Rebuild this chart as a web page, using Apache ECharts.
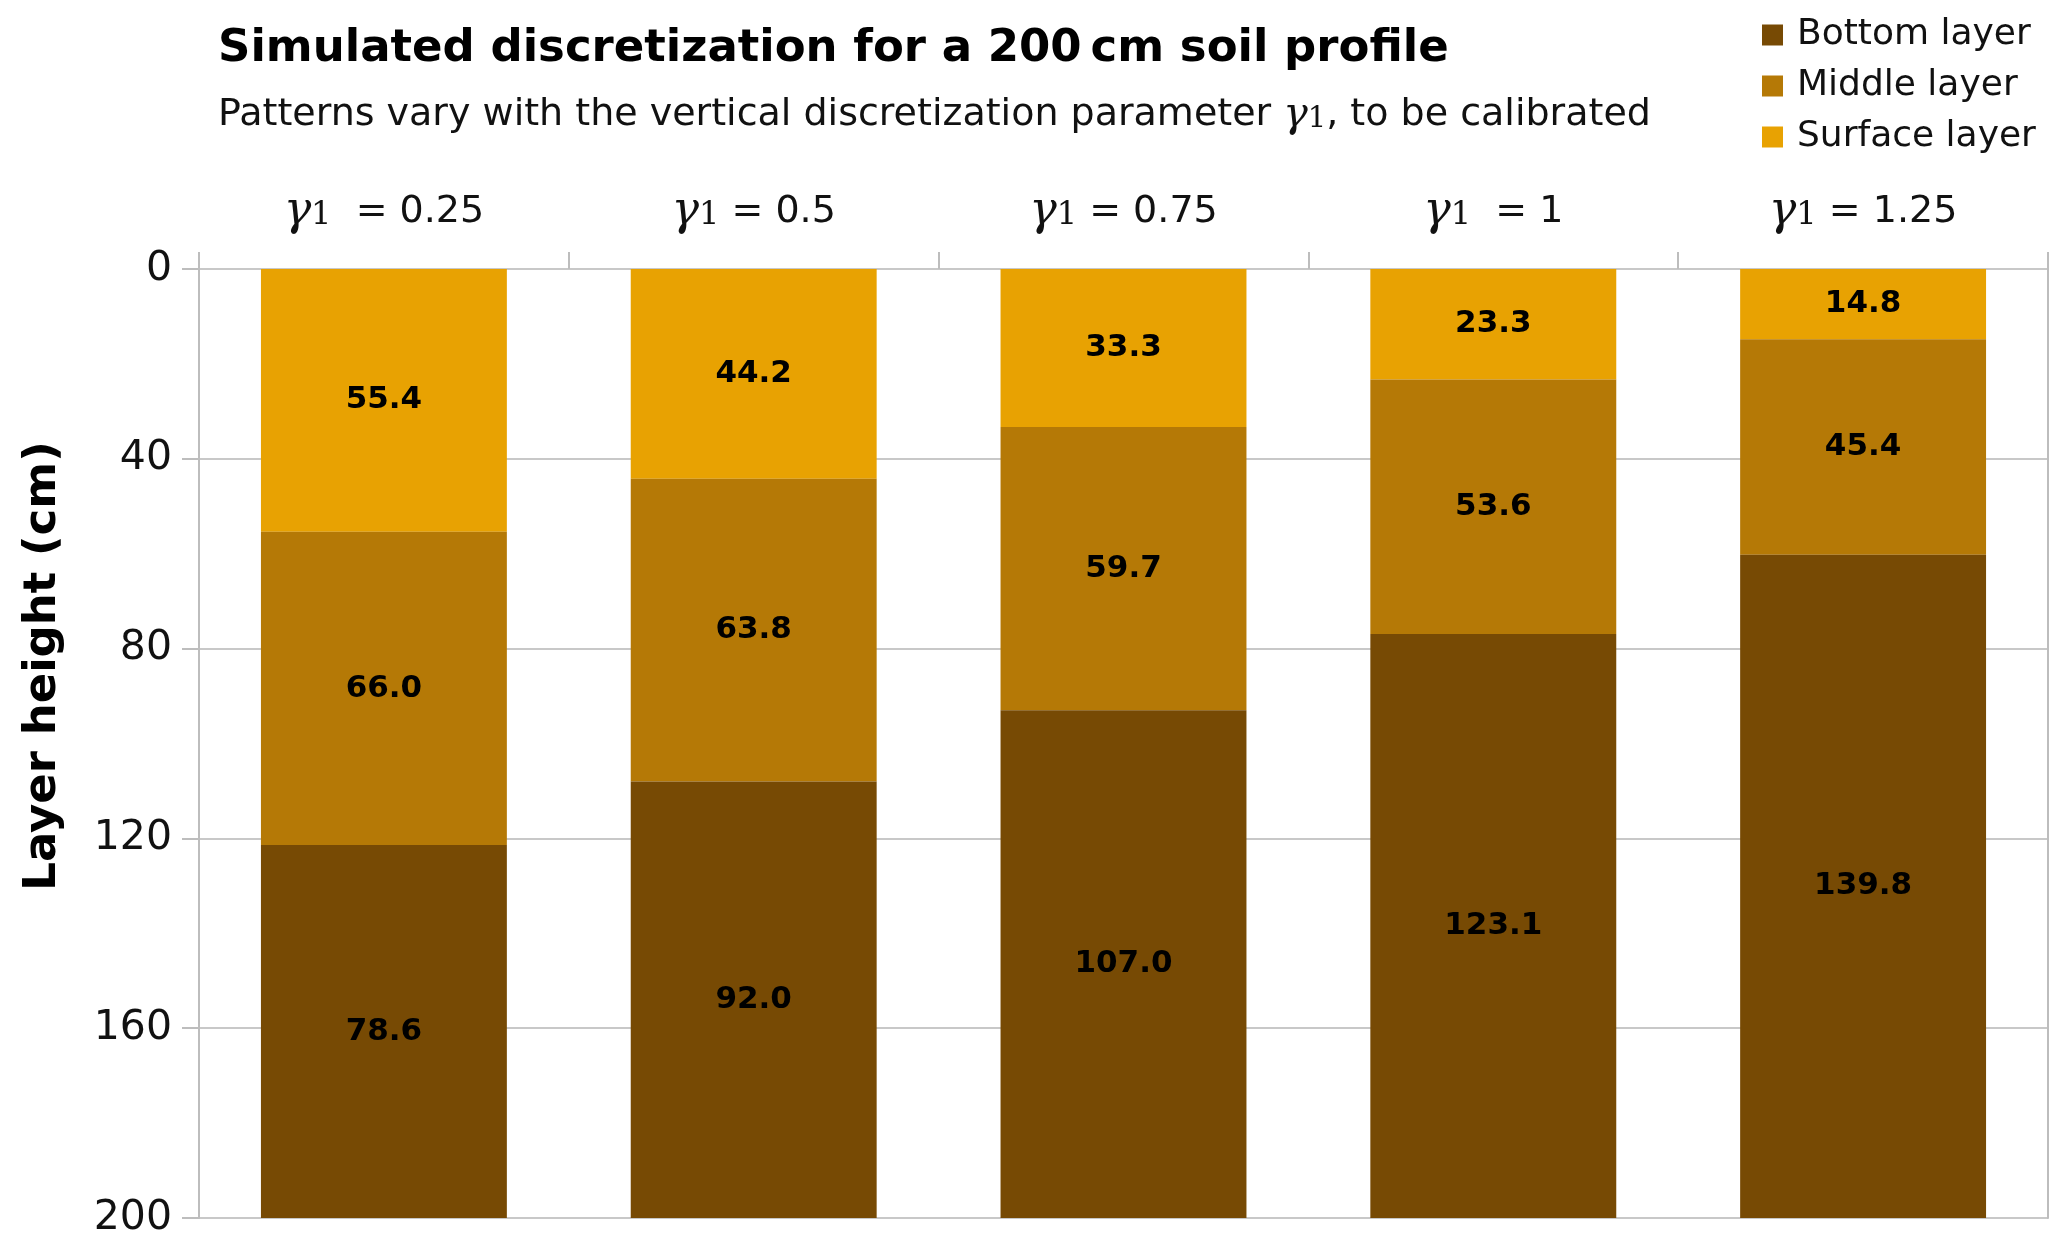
<!DOCTYPE html>
<html><head><meta charset="utf-8">
<script src="https://cdn.jsdelivr.net/npm/echarts@6/dist/echarts.min.js"></script>
<style>html,body{margin:0;padding:0;background:#fff}#c{width:2067px;height:1250px}</style>
</head><body><div id="c"></div>
<script>
const gammaValues = ['0.25', '0.5', '0.75', '1', '1.25'];
const gammaSpacer = ['  ', ' ', ' ', '  ', ' '];
const surfaceLayer = [55.4, 44.2, 33.3, 23.3, 14.8];
const middleLayer = [66.0, 63.8, 59.7, 53.6, 45.4];
const bottomLayer = [78.6, 92.0, 107.0, 123.1, 139.8];
const seriesNames = ['Surface layer', 'Middle layer', 'Bottom layer'];
const legendOrder = ['Bottom layer', 'Middle layer', 'Surface layer'];
const yTicks = {min: 0, max: 200, interval: 40};

const FONT = "'DejaVu Sans', 'Open Sans', sans-serif";
const MATH = "'DejaVu Serif', 'Liberation Serif', serif";
const colors = {'Surface layer': '#E8A202', 'Middle layer': '#B57906', 'Bottom layer': '#774A04'};

const categories = gammaValues.map((v, i) => '{g|γ}{s|1}{t|' + gammaSpacer[i] + '= ' + v + '}');
const layerData = [surfaceLayer, middleLayer, bottomLayer];

const chart = echarts.init(document.getElementById('c'), null, {renderer: 'canvas'});
chart.setOption({
  animation: false,
  backgroundColor: '#fff',
  title: [{
    text: 'Simulated discretization for a 200\u2009cm soil profile',
    left: 213, top: 22,
    textStyle: {fontFamily: FONT, fontSize: 45, fontWeight: 'bold', color: '#000'}
  }, {
    text: 'Patterns vary with the vertical discretization parameter {g|γ}{s|1}, to be calibrated',
    left: 213, top: 90,
    textStyle: {
      fontFamily: FONT, fontSize: 38, fontWeight: 'normal', color: '#111',
      rich: {
        g: {fontFamily: MATH, fontStyle: 'italic', fontSize: 41, color: '#111'},
        s: {fontFamily: MATH, fontSize: 29, color: '#111', padding: [8, 0, 0, 0]}
      }
    }
  }],
  legend: {
    data: legendOrder,
    orient: 'vertical',
    left: 1757, top: 12,
    icon: 'rect', itemWidth: 21, itemHeight: 21, itemGap: 15,
    textStyle: {fontFamily: FONT, fontSize: 36, color: '#111', padding: [0, 0, 0, 9]}
  },
  grid: {left: 199, right: 19, top: 269, bottom: 32, containLabel: false},
  xAxis: {
    type: 'category',
    position: 'top',
    data: categories,
    axisLine: {show: false},
    axisTick: {show: true, length: 17, lineStyle: {color: '#BDBDBD', width: 2}},
    axisLabel: {
      interval: 0, hideOverlap: false,
      margin: 34, color: '#111', fontFamily: FONT, fontSize: 38,
      rich: {
        g: {fontFamily: MATH, fontStyle: 'italic', fontSize: 46, color: '#111'},
        s: {fontFamily: MATH, fontSize: 32, color: '#111', padding: [8, 0, 0, 0]},
        t: {fontFamily: FONT, fontSize: 38, color: '#111'}
      }
    }
  },
  yAxis: [{
    type: 'value', inverse: true,
    min: yTicks.min, max: yTicks.max, interval: yTicks.interval,
    axisLine: {show: true, lineStyle: {color: '#BDBDBD', width: 2}},
    axisTick: {show: true, length: 17, lineStyle: {color: '#BDBDBD', width: 2}},
    splitLine: {show: true, lineStyle: {color: '#C8C8C8', width: 2}},
    axisLabel: {margin: 27, color: '#111', fontFamily: FONT, fontSize: 41}
  }, {
    type: 'value', inverse: true, position: 'right',
    min: yTicks.min, max: yTicks.max, interval: yTicks.interval,
    axisLine: {show: true, lineStyle: {color: '#BDBDBD', width: 2}},
    axisTick: {show: false}, axisLabel: {show: false}, splitLine: {show: false}
  }],
  graphic: [{
    type: 'text', x: 43, y: 666, rotation: Math.PI / 2,
    style: {
      text: 'Layer height (cm)', fill: '#000',
      font: 'bold 45px ' + FONT,
      textAlign: 'center', textVerticalAlign: 'middle'
    }
  }],
  series: seriesNames.map((name, k) => ({
    name: name, type: 'bar', stack: 'soil',
    barWidth: '66.5%',
    data: layerData[k],
    itemStyle: {color: colors[name]},
    label: {
      show: true, position: 'inside',
      fontFamily: FONT, fontSize: 31, fontWeight: 'bold', color: '#000',
      formatter: p => p.value.toFixed(1)
    }
  }))
});
</script></body></html>
